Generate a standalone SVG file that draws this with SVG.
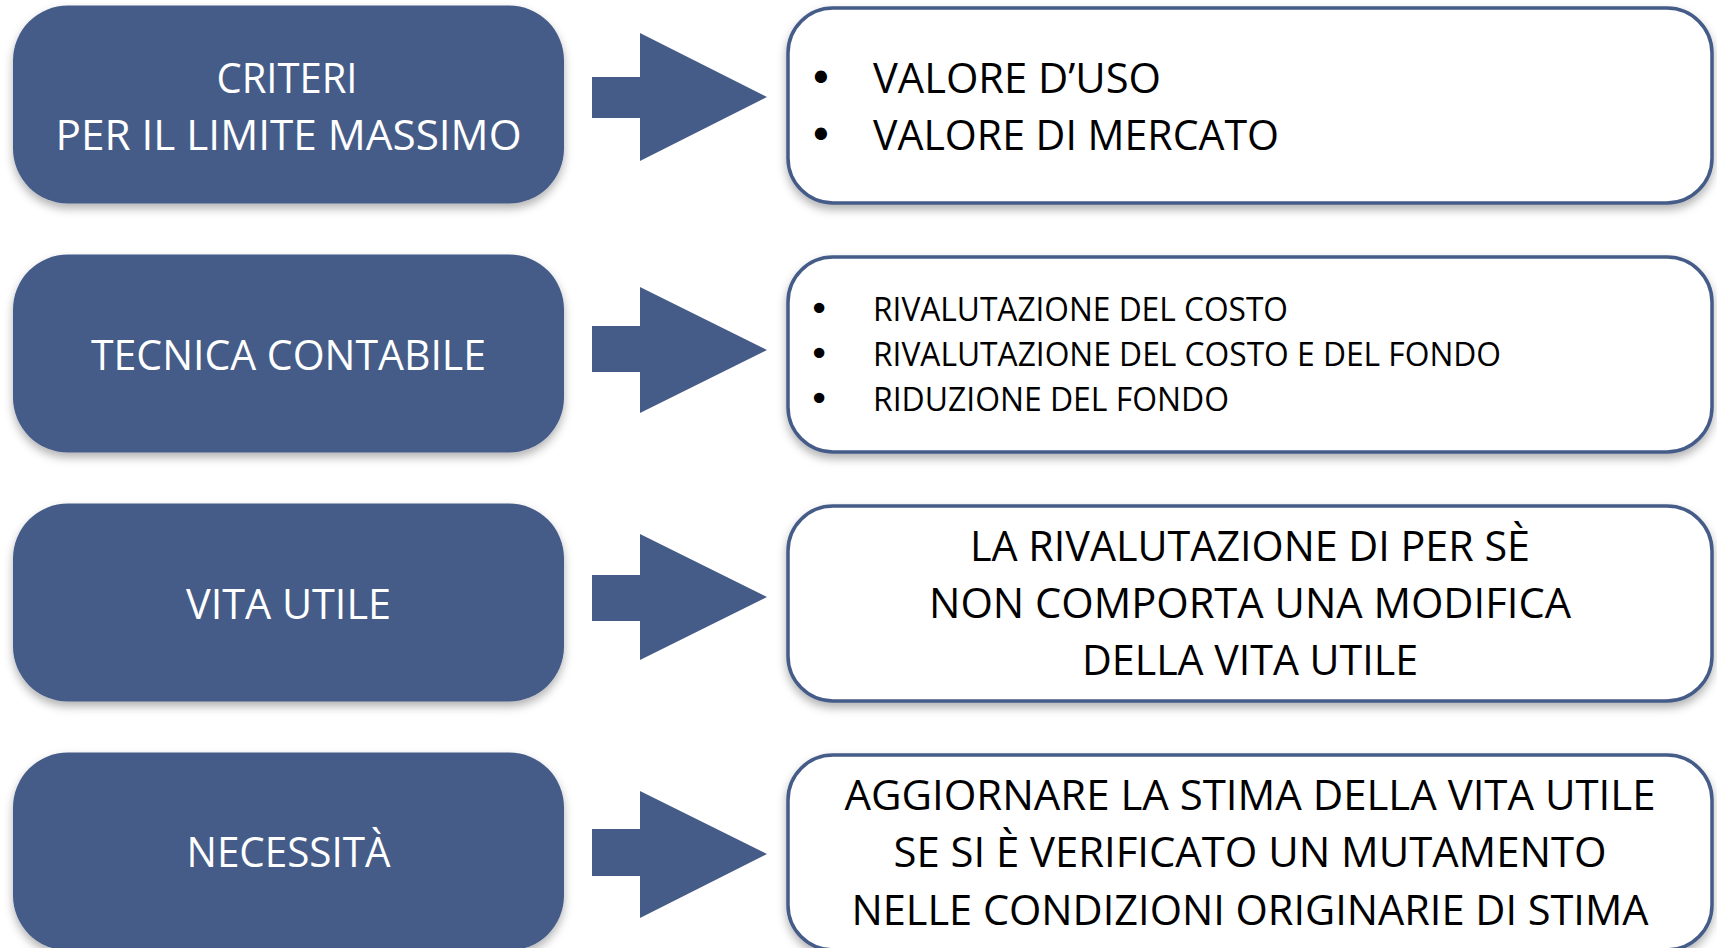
<svg xmlns="http://www.w3.org/2000/svg" width="1717" height="948" viewBox="0 0 1717 948">
<defs>
<filter id="sh" x="-10%" y="-10%" width="120%" height="130%">
<feDropShadow dx="0" dy="5" stdDeviation="5" flood-color="#000" flood-opacity="0.3"/>
</filter>
<style>
.lb{fill:#455B88;filter:url(#sh)}
.rb{fill:#fff;stroke:#455B88;stroke-width:3.5;filter:url(#sh)}
.ar{fill:#455B88}
.lt{font-family:"Open Sans","Liberation Sans",sans-serif;font-size:42px;fill:#fff;text-anchor:middle}
.rt{font-family:"Open Sans","Liberation Sans",sans-serif;font-size:42px;fill:#000}
.rs{font-family:"Open Sans","Liberation Sans",sans-serif;font-size:33px;fill:#000}
.rc{font-family:"Open Sans","Liberation Sans",sans-serif;font-size:42px;fill:#000;text-anchor:middle}
.bl{font-family:"DejaVu Sans",sans-serif;font-size:42px;fill:#000;text-anchor:middle}
.bs{font-family:"DejaVu Sans",sans-serif;font-size:36px;fill:#000;text-anchor:middle}
</style>
</defs>
<rect width="1717" height="948" fill="#fff"/>
<g id="connectors">
<path class="ar" d="M592 77H640V33L767 97L640 161V118H592Z"/>
<path class="ar" d="M592 326H640V287L767 350L640 413V372H592Z"/>
<path class="ar" d="M592 575H640V534L767 597L640 660V621H592Z"/>
<path class="ar" d="M592 829H640V791L767 854L640 918V876H592Z"/>
</g>
<g id="n1">
<rect class="lb" x="13" y="5.5" width="551" height="198" rx="55"/>
<text class="lt" x="287" y="92.5" textLength="141" lengthAdjust="spacingAndGlyphs">CRITERI</text>
<text class="lt" x="288.5" y="150" textLength="466" lengthAdjust="spacingAndGlyphs">PER IL LIMITE MASSIMO</text>
</g>
<g id="n2">
<rect class="rb" x="788" y="8" width="924" height="195" rx="45"/>
<text class="bl" x="821" y="92.5">•</text>
<text class="rt" x="873" y="92.5" textLength="288" lengthAdjust="spacingAndGlyphs">VALORE D’USO</text>
<text class="bl" x="821" y="149.5">•</text>
<text class="rt" x="873" y="149.5" textLength="406" lengthAdjust="spacingAndGlyphs">VALORE DI MERCATO</text>
</g>
<g id="n3">
<rect class="lb" x="13" y="254.5" width="551" height="198" rx="55"/>
<text class="lt" x="288.5" y="370" textLength="395" lengthAdjust="spacingAndGlyphs">TECNICA CONTABILE</text>
</g>
<g id="n4">
<rect class="rb" x="788" y="257" width="924" height="195" rx="45"/>
<text class="bs" x="819" y="321">•</text>
<text class="rs" x="873" y="321" textLength="415" lengthAdjust="spacingAndGlyphs">RIVALUTAZIONE DEL COSTO</text>
<text class="bs" x="819" y="366">•</text>
<text class="rs" x="873" y="366" textLength="628" lengthAdjust="spacingAndGlyphs">RIVALUTAZIONE DEL COSTO E DEL FONDO</text>
<text class="bs" x="819" y="411">•</text>
<text class="rs" x="873" y="411" textLength="356" lengthAdjust="spacingAndGlyphs">RIDUZIONE DEL FONDO</text>
</g>
<g id="n5">
<rect class="lb" x="13" y="503.5" width="551" height="198" rx="55"/>
<text class="lt" x="288.5" y="619" textLength="205" lengthAdjust="spacingAndGlyphs">VITA UTILE</text>
</g>
<g id="n6">
<rect class="rb" x="788" y="506" width="924" height="195" rx="45"/>
<text class="rc" x="1250" y="561" textLength="560" lengthAdjust="spacingAndGlyphs">LA RIVALUTAZIONE DI PER SÈ</text>
<text class="rc" x="1250" y="618" textLength="642" lengthAdjust="spacingAndGlyphs">NON COMPORTA UNA MODIFICA</text>
<text class="rc" x="1250" y="675" textLength="336" lengthAdjust="spacingAndGlyphs">DELLA VITA UTILE</text>
</g>
<g id="n7">
<rect class="lb" x="13" y="752.5" width="551" height="198" rx="55"/>
<text class="lt" x="288.5" y="867" textLength="204" lengthAdjust="spacingAndGlyphs">NECESSITÀ</text>
</g>
<g id="n8">
<rect class="rb" x="788" y="755" width="924" height="195" rx="45"/>
<text class="rc" x="1250" y="810" textLength="811" lengthAdjust="spacingAndGlyphs">AGGIORNARE LA STIMA DELLA VITA UTILE</text>
<text class="rc" x="1250" y="867" textLength="713" lengthAdjust="spacingAndGlyphs">SE SI È VERIFICATO UN MUTAMENTO</text>
<text class="rc" x="1250" y="925" textLength="797" lengthAdjust="spacingAndGlyphs">NELLE CONDIZIONI ORIGINARIE DI STIMA</text>
</g>
</svg>
